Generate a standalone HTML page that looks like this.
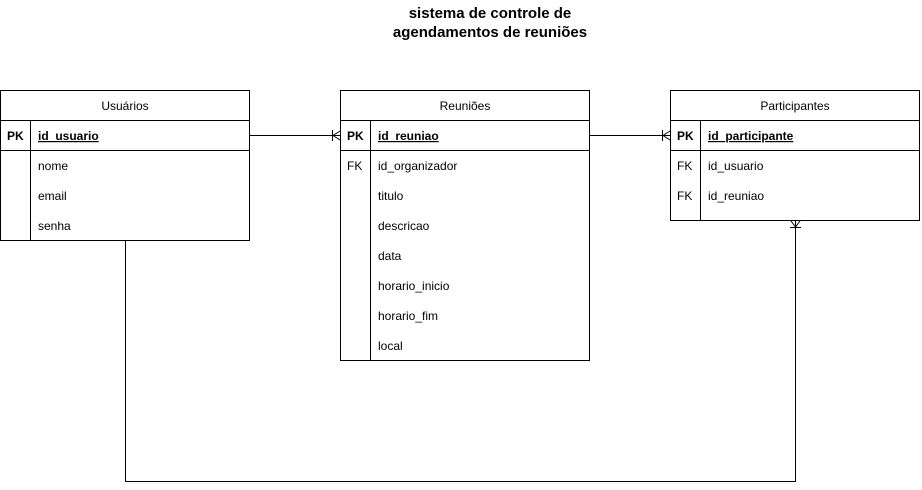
<!DOCTYPE html>
<html><head><meta charset="utf-8"><style>
body{margin:0;background:#fff;}
svg{display:block;font-family:"Liberation Sans",Arial,sans-serif;}
</style></head><body>
<svg width="922" height="490" viewBox="0 0 922 490" xmlns="http://www.w3.org/2000/svg">
<rect width="922" height="490" fill="#fff"/>
<text x="490" y="18" font-size="15" font-weight="bold" text-anchor="middle">sistema de controle de</text>
<text x="490" y="37" font-size="15" font-weight="bold" text-anchor="middle">agendamentos de reuniões</text>
<g fill="none" stroke="#000" stroke-width="1">
<rect x="0.5" y="90.5" width="249" height="150"/>
<line x1="0" y1="120.5" x2="250" y2="120.5"/>
<line x1="0" y1="150.5" x2="250" y2="150.5"/>
<line x1="30.5" y1="120" x2="30.5" y2="240"/>
<rect x="340.5" y="90.5" width="249" height="270"/>
<line x1="340" y1="120.5" x2="590" y2="120.5"/>
<line x1="340" y1="150.5" x2="590" y2="150.5"/>
<line x1="370.5" y1="120" x2="370.5" y2="360"/>
<rect x="670.5" y="90.5" width="249" height="130"/>
<line x1="670" y1="120.5" x2="920" y2="120.5"/>
<line x1="670" y1="150.5" x2="920" y2="150.5"/>
<line x1="700.5" y1="120" x2="700.5" y2="220"/>
<line x1="250" y1="135.5" x2="340" y2="135.5"/>
<line x1="332.5" y1="130" x2="332.5" y2="141"/>
<line x1="333" y1="135.5" x2="340" y2="131"/>
<line x1="333" y1="135.5" x2="340" y2="140"/>
<line x1="590" y1="135.5" x2="670" y2="135.5"/>
<line x1="662.5" y1="130" x2="662.5" y2="141"/>
<line x1="663" y1="135.5" x2="670" y2="131"/>
<line x1="663" y1="135.5" x2="670" y2="140"/>
<polyline points="125.5,240 125.5,481.5 795.5,481.5 795.5,221"/>
<line x1="790" y1="227.5" x2="801" y2="227.5"/>
<line x1="795.5" y1="227" x2="791" y2="221"/>
<line x1="795.5" y1="227" x2="800" y2="221"/>
</g>
<g font-size="12" fill="#000">
<text x="125" y="110" text-anchor="middle">Usuários</text>
<text x="465" y="110" text-anchor="middle">Reuniões</text>
<text x="795" y="110" text-anchor="middle">Participantes</text>
<g font-weight="bold">
<text x="7" y="140">PK</text><text x="38" y="140" text-decoration="underline">id_usuario</text>
<text x="347" y="140">PK</text><text x="378" y="140" text-decoration="underline">id_reuniao</text>
<text x="677" y="140">PK</text><text x="708" y="140" text-decoration="underline">id_participante</text>
</g>
<text x="38" y="170">nome</text><text x="38" y="200">email</text><text x="38" y="230">senha</text>
<text x="347" y="170">FK</text><text x="378" y="170">id_organizador</text>
<text x="378" y="200">titulo</text><text x="378" y="230">descricao</text>
<text x="378" y="260">data</text><text x="378" y="290">horario_inicio</text>
<text x="378" y="320">horario_fim</text><text x="378" y="350">local</text>
<text x="677" y="170">FK</text><text x="708" y="170">id_usuario</text>
<text x="677" y="200">FK</text><text x="708" y="200">id_reuniao</text>
</g>
</svg>
</body></html>
